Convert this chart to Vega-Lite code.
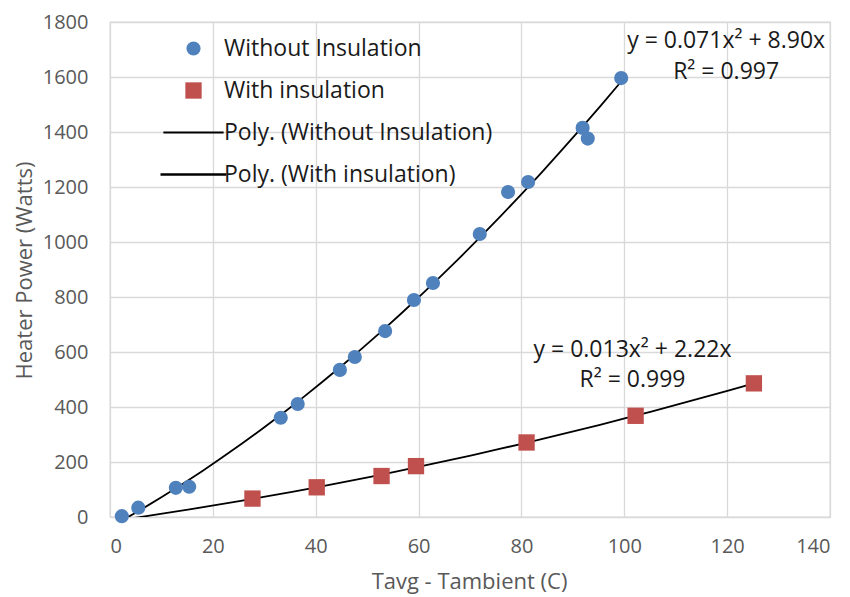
{
  "$schema": "https://vega.github.io/schema/vega-lite/v6.json",
  "width": 720,
  "height": 495,
  "autosize": {"type": "none"},
  "padding": {"left": 110, "top": 22, "right": 20, "bottom": 80},
  "background": "white",
  "config": {
    "font": "Open Sans",
    "view": {"stroke": "#d9d9d9", "strokeWidth": 1.3},
    "axis": {
      "gridColor": "#d9d9d9",
      "gridWidth": 1.3,
      "domain": false,
      "ticks": false,
      "labelFont": "Open Sans",
      "labelFontSize": 20,
      "labelColor": "#595959",
      "titleFont": "Open Sans",
      "titleFontSize": 22,
      "titleFontWeight": "normal",
      "titleColor": "#595959"
    }
  },
  "data": {
    "values": [
      {"tdiff": 2.3, "power": 3, "series": "Without Insulation"},
      {"tdiff": 5.5, "power": 34, "series": "Without Insulation"},
      {"tdiff": 12.8, "power": 106, "series": "Without Insulation"},
      {"tdiff": 15.4, "power": 110, "series": "Without Insulation"},
      {"tdiff": 33.2, "power": 361, "series": "Without Insulation"},
      {"tdiff": 36.5, "power": 411, "series": "Without Insulation"},
      {"tdiff": 44.7, "power": 535, "series": "Without Insulation"},
      {"tdiff": 47.6, "power": 582, "series": "Without Insulation"},
      {"tdiff": 53.5, "power": 676, "series": "Without Insulation"},
      {"tdiff": 59.1, "power": 789, "series": "Without Insulation"},
      {"tdiff": 62.8, "power": 851, "series": "Without Insulation"},
      {"tdiff": 71.9, "power": 1029, "series": "Without Insulation"},
      {"tdiff": 77.4, "power": 1182, "series": "Without Insulation"},
      {"tdiff": 81.3, "power": 1218, "series": "Without Insulation"},
      {"tdiff": 91.9, "power": 1415, "series": "Without Insulation"},
      {"tdiff": 92.9, "power": 1376, "series": "Without Insulation"},
      {"tdiff": 99.4, "power": 1596, "series": "Without Insulation"},
      {"tdiff": 27.7, "power": 67, "series": "With insulation"},
      {"tdiff": 40.2, "power": 108, "series": "With insulation"},
      {"tdiff": 52.8, "power": 149, "series": "With insulation"},
      {"tdiff": 59.5, "power": 185, "series": "With insulation"},
      {"tdiff": 81.0, "power": 271, "series": "With insulation"},
      {"tdiff": 102.2, "power": 368, "series": "With insulation"},
      {"tdiff": 125.2, "power": 486, "series": "With insulation"}
    ]
  },
  "layer": [
    {
      "transform": [
        {"filter": "datum.series === 'Without Insulation'"},
        {"regression": "power", "on": "tdiff", "method": "poly", "order": 2, "extent": [2.3, 99.4]}
      ],
      "mark": {"type": "line", "color": "black", "strokeWidth": 1.8, "clip": true},
      "encoding": {
        "x": {"field": "tdiff", "type": "quantitative"},
        "y": {"field": "power", "type": "quantitative"}
      }
    },
    {
      "transform": [
        {"filter": "datum.series === 'With insulation'"},
        {"regression": "power", "on": "tdiff", "method": "poly", "order": 2, "extent": [0.5, 125.2]}
      ],
      "mark": {"type": "line", "color": "black", "strokeWidth": 1.8, "clip": true},
      "encoding": {
        "x": {"field": "tdiff", "type": "quantitative"},
        "y": {"field": "power", "type": "quantitative"}
      }
    },
    {
      "mark": {"type": "point", "filled": true, "opacity": 1},
      "encoding": {
        "x": {
          "field": "tdiff",
          "type": "quantitative",
          "scale": {"domain": [0, 140], "nice": false, "zero": true},
          "axis": {
            "values": [0, 20, 40, 60, 80, 100, 120, 140],
            "format": "d",
            "title": "Tavg - Tambient (C)",
            "labelPadding": 19,
            "titleX": 359,
            "titleY": 64,
            "titleAlign": "center",
            "titleBaseline": "middle"
          }
        },
        "y": {
          "field": "power",
          "type": "quantitative",
          "scale": {"domain": [0, 1800], "nice": false},
          "axis": {
            "values": [0, 200, 400, 600, 800, 1000, 1200, 1400, 1600, 1800],
            "format": "d",
            "title": "Heater Power (Watts)",
            "labelPadding": 22,
            "titleAngle": -90,
            "titleX": -86,
            "titleY": 248,
            "titleAlign": "center",
            "titleBaseline": "middle"
          }
        },
        "color": {
          "field": "series",
          "type": "nominal",
          "scale": {
            "domain": ["Without Insulation", "With insulation", "Poly. (Without Insulation)", "Poly. (With insulation)"],
            "range": ["#4f81bd", "#c0504d", "#000000", "#000000"]
          },
          "legend": {
            "orient": "none",
            "legendX": 72,
            "legendY": 15,
            "title": null,
            "padding": 0,
            "symbolSize": 1200,
            "labelFont": "Open Sans",
            "labelFontSize": 23,
            "labelColor": "#1a1a1a",
            "labelOffset": 19,
            "labelLimit": 400,
            "rowPadding": 18
          }
        },
        "shape": {
          "field": "series",
          "type": "nominal",
          "scale": {
            "domain": ["Without Insulation", "With insulation", "Poly. (Without Insulation)", "Poly. (With insulation)"],
            "range": ["circle", "square", "M-3.3,-0.12H3.3V0.12H-3.3Z", "M-3.3,-0.12H3.3V0.12H-3.3Z"]
          }
        },
        "size": {
          "field": "series",
          "type": "nominal",
          "scale": {
            "domain": ["Without Insulation", "With insulation", "Poly. (Without Insulation)", "Poly. (With insulation)"],
            "range": [200, 400, 200, 200]
          },
          "legend": null
        }
      }
    },
    {
      "data": {"values": [{"fit": "Without Insulation"}]},
      "mark": {
        "type": "text",
        "align": "center",
        "baseline": "middle",
        "lineHeight": 31,
        "fontSize": 23,
        "font": "Open Sans",
        "color": "#1a1a1a"
      },
      "encoding": {
        "x": {"datum": 119.8, "type": "quantitative"},
        "y": {"datum": 1732, "type": "quantitative"},
        "text": {"value": ["y = 0.071x² + 8.90x", "R² = 0.997"]}
      }
    },
    {
      "data": {"values": [{"fit": "With insulation"}]},
      "mark": {
        "type": "text",
        "align": "center",
        "baseline": "middle",
        "lineHeight": 30,
        "fontSize": 23,
        "font": "Open Sans",
        "color": "#1a1a1a"
      },
      "encoding": {
        "x": {"datum": 101.6, "type": "quantitative"},
        "y": {"datum": 607, "type": "quantitative"},
        "text": {"value": ["y = 0.013x² + 2.22x", "R² = 0.999"]}
      }
    }
  ]
}
